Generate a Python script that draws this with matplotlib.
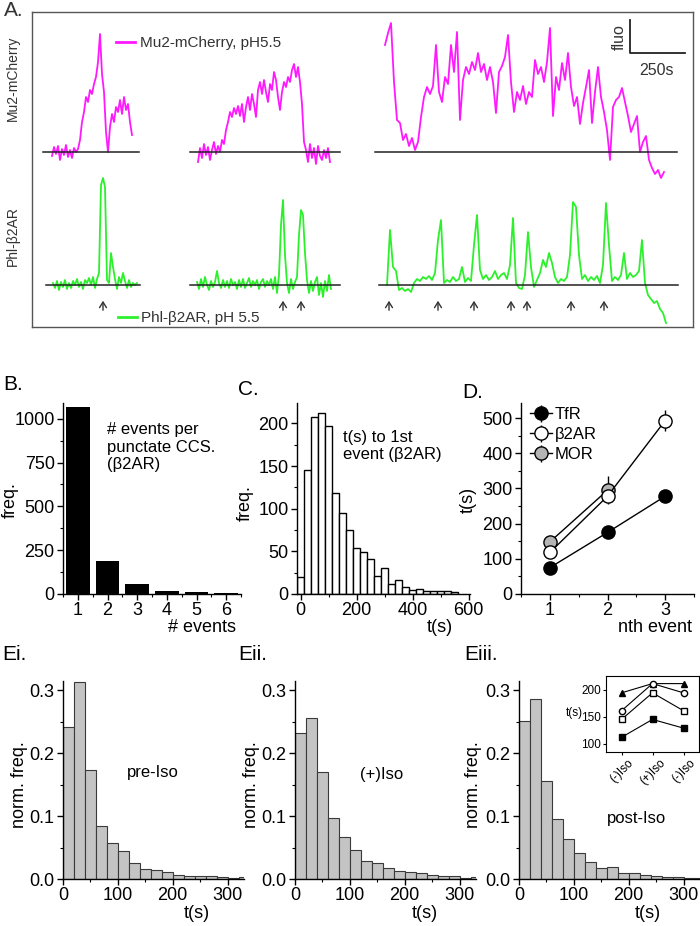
import numpy as np
import matplotlib.pyplot as plt
from matplotlib.ticker import MultipleLocator

plt.rcParams['font.family'] = ['Liberation Sans', 'DejaVu Sans']
plt.rcParams['axes.linewidth'] = 1.0

W, H = 700, 926

# ---- A. example traces, height above baseline
mu2_a = [-4, 5, -2, 6, -8, 3, -3, 7, -5, 2, -6, 4, 0, 3, 12, 30, 40, 55, 50, 62, 58, 68, 75, 90, 118,
         78, 60, 20, 0, 25, 38, 30, 45, 40, 52, 38, 55, 42, 48, 30, 17]
mu2_b = [-10, 4, -6, 8, -3, 5, -8, 2, 10, -2, 6, 0, 12, 8, 22, 30, 40, 35, 44, 38, 46, 36, 48, 30, 45,
         55, 42, 58, 48, 35, 62, 70, 58, 72, 60, 50, 68, 62, 80, 72, 55, 42, 60, 70, 65, 75, 70, 82,
         88, 75, 85, 70, 48, 10, 2, -10, 8, -6, 4, -12, 6, -4, -8, 2, -6, 4, -10]
mu2_c = [107, 119, 129, 70, 32, 29, 12, 18, 6, 14, 2, 10, 35, 55, 65, 58, 66, 107, 60, 50, 75, 68, 107,
         80, 120, 32, 72, 85, 78, 90, 82, 99, 80, 88, 72, 85, 70, 39, 80, 86, 95, 117, 70, 40, 60, 52,
         66, 48, 60, 55, 92, 78, 85, 70, 90, 124, 36, 75, 62, 89, 72, 99, 65, 46, 55, 28, 49, 65, 82,
         29, 60, 85, 55, 40, 22, -8, 45, 52, 55, 64, 50, 36, 20, 28, 36, 0, 10, 16, -8, -16, -22, -18,
         -26, -20]
phl_a = [2, -3, 4, -5, 3, -2, 5, -4, 2, -3, 4, 0, 6, -2, 3, -4, 5, 2, 7, 0, 8, -3, 6, 12, 100, 107, 98,
         5, 2, 32, 18, 6, -4, 8, 2, 12, 4, -3, 5, -2, 2, 0, 2]
phl_b = [3, -4, 6, -2, 8, 0, -5, 4, -2, 3, 14, 2, -3, 5, -2, 4, -3, 6, 0, 3, -4, 5, -2, 6, -3, 2, 7, -2,
         4, 0, 5, -4, 3, 6, -2, 4, 0, 6, -4, 8, -8, 10, 60, 85, 30, 2, -8, 6, -4, 3, 8, 50, 75, 70, 32,
         5, -8, 4, -6, 3, 8, -10, 2, -12, 4, -6, 10, -4]
phl_c = [0, 55, 18, 14, -5, -3, -6, -4, -7, 2, 6, 4, 8, 6, 9, 5, 12, 45, 65, 2, 5, 3, 8, 4, 6, 18, 3, 7,
         4, 40, 70, 15, 6, 10, 5, 8, 14, 6, 10, 12, 6, 20, 67, 2, -3, -4, 10, 53, 18, -2, 5, 12, 25, 18,
         32, 22, 8, 2, 6, 4, 8, 30, 83, 78, 30, 6, 10, 4, 8, 5, 9, 2, 20, 82, 40, 4, 8, 5, 10, 32, 6, 12,
         8, 10, 14, 45, 2, -10, -14, -18, -16, -24, -28, -38]
arrow_x = [103, 283, 301, 389, 438, 474, 511, 527, 571, 604]

# ---- B. events per CCS
n_events = [1, 2, 3, 4, 5, 6]
n_freq = [1070, 190, 55, 15, 13, 3]

# ---- C. time to first event
t1_bins = np.arange(0, 575, 25)
t1_freq = [20, 145, 207, 212, 197, 118, 95, 75, 54, 49, 41, 21, 31, 12, 16, 8, 5, 6, 4, 4, 3, 4, 2]

# ---- D. nth event
nth = [1, 2, 3]
tfr = [75, 175, 278]
tfr_err = [5, 8, 15]
b2ar = [118, 278, 493]
b2ar_err = [8, 12, 30]
mor = [148, 295]
mor_err = [10, 40]

# ---- E. inter-event intervals
e_edges = np.arange(0, 340, 20)
pre_iso = [0.242, 0.313, 0.173, 0.085, 0.058, 0.044, 0.026, 0.016, 0.014, 0.011, 0.006, 0.005,
           0.004, 0.005, 0.003, 0.002, 0.003]
plus_iso = [0.233, 0.256, 0.170, 0.097, 0.067, 0.046, 0.029, 0.025, 0.018, 0.013, 0.011, 0.010,
            0.006, 0.005, 0.004, 0.002, 0.003]
post_iso = [0.252, 0.287, 0.156, 0.095, 0.064, 0.042, 0.027, 0.017, 0.019, 0.010, 0.009, 0.006,
            0.004, 0.003, 0.003, 0.002, 0.002]
inset_cond = ['(-)Iso', '(+)Iso', '(-)Iso']
inset_tri = [194, 211, 211]
inset_circ = [161, 211, 194]
inset_sq_open = [145, 194, 161]
inset_sq = [112, 145, 129]

MAG = '#ff19ff'
GRN = '#2cf02c'

fig = plt.figure(figsize=(7, 9.26), dpi=100)


def box(x0, y0, x1, y1):
    return fig.add_axes([x0 / W, 1 - y1 / H, (x1 - x0) / W, (y1 - y0) / H])


def ftext(x, y, s, **kw):
    fig.text(x / W, 1 - y / H, s, **kw)


def style(ax, fs=13):
    for s in ['top', 'right']:
        ax.spines[s].set_visible(False)
    ax.tick_params(which='major', direction='out', length=4, width=1, labelsize=fs, pad=2)
    ax.tick_params(which='minor', direction='out', length=2.5, width=0.8)


# ================= A
axA = box(32, 12, 693, 327)
axA.set_xlim(32, 693)
axA.set_ylim(327, 12)
axA.set_xticks([])
axA.set_yticks([])
for s in axA.spines.values():
    s.set_color('#555555')

traces = [
    (mu2_a, 52, 2, 152, 43, 139, MAG),
    (mu2_b, 198, 2, 152, 190, 340, MAG),
    (mu2_c, 385, 3, 152, 375, 677, MAG),
    (phl_a, 53, 2, 285, 46, 140, GRN),
    (phl_b, 197, 2, 285, 190, 340, GRN),
    (phl_c, 387, 3, 285, 379, 678, GRN),
]
for vals, x0, step, base, l0, l1, col in traces:
    vals = np.array(vals)
    xs = x0 + np.arange(len(vals)) * step
    axA.plot(xs, base - vals, color=col, lw=1.3, zorder=2)
    axA.plot([l0, l1], [base, base], color='#222222', lw=1.1, zorder=3)

for x in arrow_x:
    axA.annotate('', xy=(x, 298), xytext=(x, 313),
                 arrowprops=dict(arrowstyle='->,head_length=0.4,head_width=0.25',
                                 lw=1, color='#333333'))

axA.plot([116, 135], [42, 42], color=MAG, lw=2)
axA.text(140, 43, 'Mu2-mCherry, pH5.5', fontsize=11, va='center', color='#333333')
axA.plot([118, 137], [317, 317], color=GRN, lw=2)
axA.text(141, 318, 'Phl-β2AR, pH 5.5', fontsize=11, va='center', color='#333333')

# scale bar
axA.plot([630, 630, 685], [20, 53, 53], color='#222222', lw=1.3)
axA.text(619, 37, 'fluo', rotation=90, fontsize=11.5, ha='center', va='center', color='#333333')
axA.text(656, 70, '250s', fontsize=11.5, ha='center', va='center', color='#333333')

ftext(4, 10, 'A.', fontsize=15, va='center', color='#333333')
ftext(13, 78, 'Mu2-mCherry', rotation=90, fontsize=10, ha='center', va='center', color='#333333')
ftext(13, 236, 'Phl-β2AR', rotation=90, fontsize=10, ha='center', va='center', color='#333333')

# ================= B
axB = box(63, 403, 241, 594)
style(axB)
axB.bar(n_events, n_freq, width=0.8, color='black')
axB.set_xlim(0.5, 6.5)
axB.set_ylim(0, 1090)
axB.set_xticks(n_events)
axB.set_yticks([0, 250, 500, 750, 1000])
axB.yaxis.set_minor_locator(MultipleLocator(125))
axB.xaxis.set_minor_locator(MultipleLocator(0.5))
axB.text(0.245, 0.9, '# events per\npunctate CCS.\n(β2AR)', transform=axB.transAxes,
         fontsize=12, va='top', linespacing=1.2)
ftext(3, 385, 'B.', fontsize=15, va='center')
ftext(10, 500, 'freq.', rotation=90, fontsize=13, ha='center', va='center')
ftext(236, 627, '# events', fontsize=13, ha='right', va='center')

# ================= C
axC = box(297, 403, 470, 594)
style(axC)
axC.bar(t1_bins, t1_freq, width=25, color='white', edgecolor='black', lw=1)
axC.set_xlim(-12.5, 605)
axC.set_ylim(0, 224)
axC.set_xticks([0, 200, 400, 600])
axC.set_yticks([0, 50, 100, 150, 200])
axC.yaxis.set_minor_locator(MultipleLocator(25))
axC.xaxis.set_minor_locator(MultipleLocator(100))
axC.text(0.265, 0.86, 't(s) to 1st\nevent (β2AR)', transform=axC.transAxes,
         fontsize=12, va='top', linespacing=1.2)
ftext(238, 390, 'C.', fontsize=15, va='center')
ftext(245, 503, 'freq.', rotation=90, fontsize=13, ha='center', va='center')
ftext(440, 627, 't(s)', fontsize=13, ha='center', va='center')

# ================= D
axD = box(521, 403, 694, 594)
style(axD)
axD.errorbar(nth, tfr, yerr=tfr_err, color='black', lw=1, marker='o', ms=9.5,
             mfc='black', mec='black', capsize=0, label='TfR', zorder=3)
axD.errorbar(nth, b2ar, yerr=b2ar_err, color='black', lw=1, marker='o', ms=9.5,
             mfc='white', mec='black', capsize=0, label='β2AR', zorder=4)
axD.errorbar(nth[:2], mor, yerr=mor_err, color='black', lw=1, marker='o', ms=9.5,
             mfc='#b4b4b4', mec='black', capsize=0, label='MOR', zorder=3)
axD.set_xlim(0.5, 3.5)
axD.set_ylim(0, 543)
axD.set_xticks(nth)
axD.set_yticks([0, 100, 200, 300, 400, 500])
axD.yaxis.set_minor_locator(MultipleLocator(50))
axD.xaxis.set_minor_locator(MultipleLocator(0.5))
axD.legend(loc='upper left', bbox_to_anchor=(530 / W, 1 - 407 / H), bbox_transform=fig.transFigure,
           frameon=False, fontsize=12, handlelength=1.3, handletextpad=0.2, labelspacing=0.3,
           borderpad=0, borderaxespad=0)
ftext(462, 393, 'D.', fontsize=15, va='center')
ftext(468, 500, 't(s)', rotation=90, fontsize=13, ha='center', va='center')
ftext(692, 627, 'nth event', fontsize=13, ha='right', va='center')

# ================= E
e_panels = [
    (63, pre_iso, 'Ei.', 2, 19, 197, 'pre-Iso', 153, 773),
    (295, plus_iso, 'Eii.', 238, 251, 425, '(+)Iso', 382, 775),
    (519, post_iso, 'Eiii.', 464, 474, 648, 'post-Iso', 637, 818),
]
for x0, vals, lab, lx, ylx, xlx, note, nx, ny in e_panels:
    ax = box(x0, 681, x0 + 181, 879)
    style(ax)
    ax.bar(e_edges, vals, width=20, align='edge', color='#c4c4c4', edgecolor='#3a3a3a', lw=0.8)
    ax.set_xlim(0, 330)
    ax.set_ylim(0, 0.315)
    ax.set_xticks([0, 100, 200, 300])
    ax.set_yticks([0.0, 0.1, 0.2, 0.3])
    ax.set_yticklabels(['0.0', '0.1', '0.2', '0.3'])
    ax.xaxis.set_minor_locator(MultipleLocator(50))
    ax.yaxis.set_minor_locator(MultipleLocator(0.05))
    ftext(lx, 655, lab, fontsize=15, va='center')
    ftext(ylx, 785, 'norm. freq.', rotation=90, fontsize=13, ha='center', va='center')
    ftext(xlx, 913, 't(s)', fontsize=13, ha='center', va='center')
    ftext(nx, ny, note, fontsize=12, ha='center', va='center')

# inset in Eiii
axi = box(606, 676, 699, 752)
axi.plot(range(3), inset_tri, color='black', lw=0.8, marker='^', ms=4.5, mfc='black')
axi.plot(range(3), inset_circ, color='black', lw=0.8, marker='o', ms=4.5, mfc='white')
axi.plot(range(3), inset_sq_open, color='black', lw=0.8, marker='s', ms=4, mfc='white')
axi.plot(range(3), inset_sq, color='black', lw=0.8, marker='s', ms=4, mfc='black')
axi.set_xlim(-0.5, 2.5)
axi.set_ylim(85, 225)
axi.set_yticks([100, 150, 200])
axi.set_xticks(range(3))
axi.set_xticklabels(inset_cond, rotation=45, ha='center')
axi.tick_params(labelsize=8.5, length=2.5, width=0.8, pad=1)
for s in axi.spines.values():
    s.set_linewidth(0.8)
ftext(574, 713, 't(s)', fontsize=8.5, ha='center', va='center')

fig.savefig('out.png', dpi=100)
